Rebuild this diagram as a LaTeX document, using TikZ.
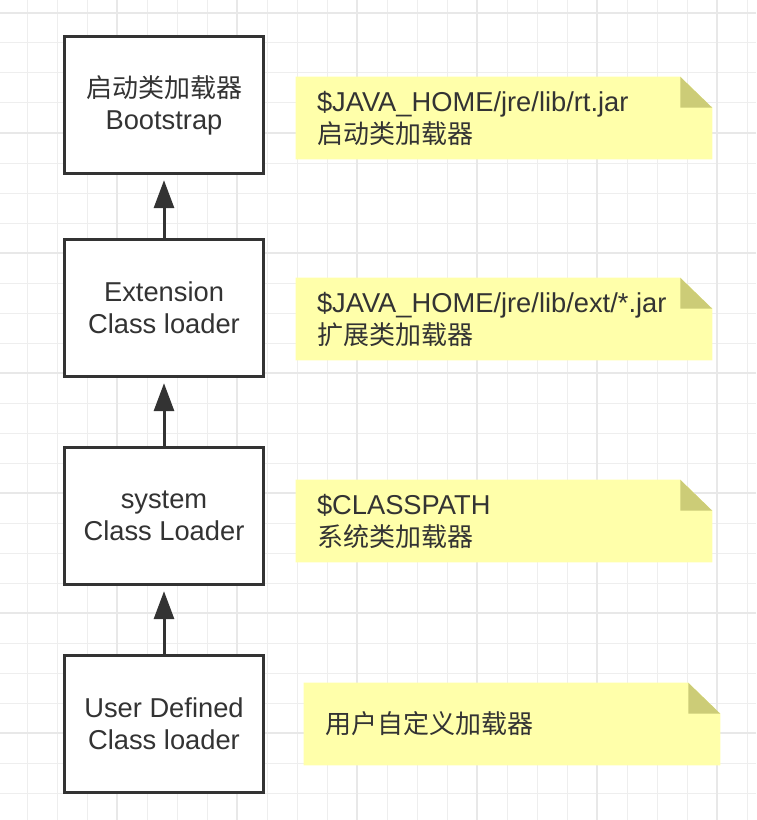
\documentclass[tikz,border=0pt]{standalone}
\usepackage{fontspec}
\setmainfont[Scale=1.05]{Liberation Sans}
\newfontfamily\cjk{Noto Sans CJK SC}
\usetikzlibrary{arrows.meta}
\pgfdeclarelayer{background}
\pgfsetlayers{background,main}
\definecolor{gridthin}{HTML}{EEEEEE}
\definecolor{gridthick}{HTML}{E8E8E8}
\definecolor{darkline}{HTML}{333333}
\definecolor{noteyellow}{HTML}{FFFFAA}
\definecolor{notefold}{HTML}{CCCC77}

\begin{document}
\begin{tikzpicture}[x=0.75pt,y=-0.75pt]
\tikzstyle{every node}=[font=\fontsize{19.5}{24}\selectfont, text=darkline];
\tikzstyle{loader}=[draw=darkline, line width=2.25pt, fill=white, align=center, minimum width=149pt, minimum height=103pt];
\tikzstyle{note}=[text width=280.5pt, inner xsep=15.75pt, inner ysep=0pt, minimum height=61.5pt, align=left];
\tikzstyle{parent}=[-{Triangle[width=15pt,length=21pt]}, draw=darkline, line width=2.25pt, shorten >=3.75pt];
\useasboundingbox (0,0) rectangle (756,820);

\node[loader] (boot) at (164,105) {{\cjk 启动类加载器}\\Bootstrap};
\node[loader] (ext)  at (164,308) {Extension\\Class loader};
\node[loader] (sys)  at (164,516) {system\\Class Loader};
\node[loader] (user) at (164,724) {User Defined\\Class loader};

\node[note] (rt) at (504,118) {\$JAVA\_HOME/jre/lib/rt.jar\\{\cjk 启动类加载器}};
\node[note] (extjar) at (504,319) {\$JAVA\_HOME/jre/lib/ext/*.jar\\{\cjk 扩展类加载器}};
\node[note] (cp) at (504,521) {\$CLASSPATH\\{\cjk 系统类加载器}};
\node[note] (own) at (512,724) {{\cjk 用户自定义加载器}};

\draw[parent] (ext) -- (boot);
\draw[parent] (sys) -- (ext);
\draw[parent] (user) -- (sys);

% grid and note paper
\begin{pgfonlayer}{background}
\foreach \gx in {27,57,...,747} \draw[gridthin, line width=0.75pt] (\gx,0) -- (\gx,820);
\foreach \gy in {13,43,...,793} \draw[gridthin, line width=0.75pt] (0,\gy) -- (756,\gy);
\foreach \gx in {117,237,...,717} \draw[gridthick, line width=1.5pt] (\gx,0) -- (\gx,820);
\foreach \gy in {13,133,...,733} \draw[gridthick, line width=1.5pt] (0,\gy) -- (756,\gy);
\foreach \n in {rt,extjar,cp,own} {
  \fill[noteyellow] (\n.north west) -- ([xshift=-24pt]\n.north east) -- ([yshift=-23.25pt]\n.north east) -- (\n.south east) -- (\n.south west) -- cycle;
  \fill[notefold] ([xshift=-24pt]\n.north east) -- ([xshift=-24pt,yshift=-23.25pt]\n.north east) -- ([yshift=-23.25pt]\n.north east) -- cycle;
}
\end{pgfonlayer}
\end{tikzpicture}
\end{document}
